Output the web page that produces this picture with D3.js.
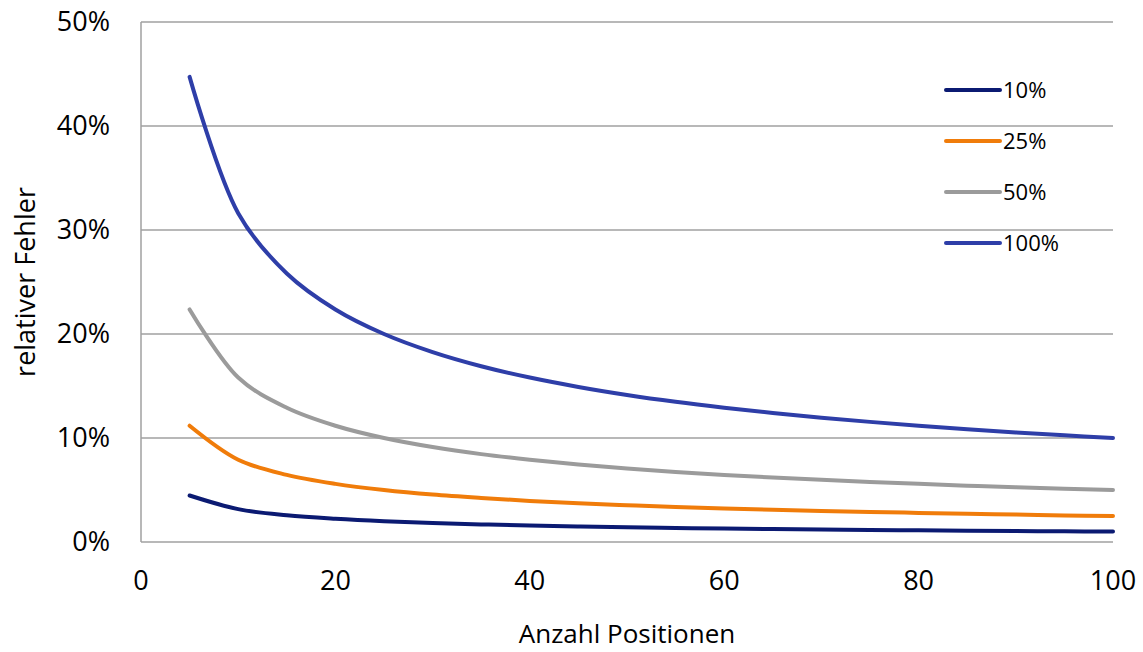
<!DOCTYPE html>
<html>
<head>
<meta charset="utf-8">
<script src="https://cdn.jsdelivr.net/npm/d3@7"></script>
<style>
body { margin: 0; background: #fff; }
text { font-family: "Open Sans", "Noto Sans", sans-serif; fill: #000; }
</style>
</head>
<body>
<div id="chart"></div>
<script>
// Anzahl Positionen (x)
var positions = [5, 10, 15, 20, 25, 30, 35, 40, 45, 50, 55, 60, 65, 70, 75, 80, 85, 90, 95, 100];

// relativer Fehler in %
var err10  = [4.47, 3.16, 2.58, 2.24, 2.0, 1.83, 1.69, 1.58, 1.49, 1.41, 1.35, 1.29, 1.24, 1.2, 1.15, 1.12, 1.08, 1.05, 1.03, 1.0];
var err25  = [11.18, 7.91, 6.45, 5.59, 5.0, 4.56, 4.23, 3.95, 3.73, 3.54, 3.37, 3.23, 3.1, 2.99, 2.89, 2.8, 2.71, 2.64, 2.56, 2.5];
var err50  = [22.36, 15.81, 12.91, 11.18, 10.0, 9.13, 8.45, 7.91, 7.45, 7.07, 6.74, 6.45, 6.2, 5.98, 5.77, 5.59, 5.42, 5.27, 5.13, 5.0];
var err100 = [44.72, 31.62, 25.82, 22.36, 20.0, 18.26, 16.9, 15.81, 14.91, 14.14, 13.48, 12.91, 12.4, 11.95, 11.55, 11.18, 10.85, 10.54, 10.26, 10.0];

var seriesNames = ["10%", "25%", "50%", "100%"];
var seriesColors = ["#0b1a72", "#f07c0a", "#9b9b9b", "#2e3ea8"];
var seriesValues = [err10, err25, err50, err100];

var yTicks = [0, 10, 20, 30, 40, 50];
var xTicks = [0, 20, 40, 60, 80, 100];

var width = 1143, height = 652;
var margin = {top: 22, right: 30, bottom: 110, left: 141};

var svg = d3.select("#chart").append("svg")
  .attr("width", width)
  .attr("height", height);

var x = d3.scaleLinear().domain([0, 100]).range([margin.left, width - margin.right]);
var y = d3.scaleLinear().domain([0, 50]).range([height - margin.bottom, margin.top]);

// gridlines
svg.append("g")
  .selectAll("line")
  .data(yTicks)
  .enter().append("line")
  .attr("x1", x(0))
  .attr("x2", x(100))
  .attr("y1", function(d) { return y(d); })
  .attr("y2", function(d) { return y(d); })
  .style("stroke", "#a0a0a0")
  .style("stroke-width", 1.5);

// y axis line
svg.append("line")
  .attr("x1", x(0)).attr("x2", x(0))
  .attr("y1", y(0)).attr("y2", y(50))
  .style("stroke", "#a0a0a0")
  .style("stroke-width", 1.5);

// y tick labels
svg.append("g")
  .selectAll("text")
  .data(yTicks)
  .enter().append("text")
  .attr("x", x(0) - 31)
  .attr("y", function(d) { return y(d); })
  .attr("dy", "0.35em")
  .attr("text-anchor", "end")
  .style("font-size", "27px")
  .text(function(d) { return d + "%"; });

// x tick labels
svg.append("g")
  .selectAll("text")
  .data(xTicks)
  .enter().append("text")
  .attr("x", function(d) { return x(d); })
  .attr("y", y(0) + 39)
  .attr("dy", "0.35em")
  .attr("text-anchor", "middle")
  .style("font-size", "27px")
  .text(function(d) { return d; });

// axis titles
svg.append("text")
  .attr("x", (x(0) + x(100)) / 2)
  .attr("y", 634)
  .attr("dy", "0.35em")
  .attr("text-anchor", "middle")
  .style("font-size", "26px")
  .text("Anzahl Positionen");

svg.append("text")
  .attr("transform", "translate(26," + ((y(0) + y(50)) / 2) + ") rotate(-90)")
  .attr("dy", "0.35em")
  .attr("text-anchor", "middle")
  .style("font-size", "27px")
  .text("relativer Fehler");

// lines
var line = d3.line()
  .x(function(d) { return x(d[0]); })
  .y(function(d) { return y(d[1]); })
  .curve(d3.curveCatmullRom.alpha(0.5));

svg.append("g")
  .selectAll("path")
  .data(seriesValues)
  .enter().append("path")
  .attr("d", function(vals) { return line(positions.map(function(p, i) { return [p, vals[i]]; })); })
  .style("fill", "none")
  .style("stroke", function(d, i) { return seriesColors[i]; })
  .style("stroke-width", 4)
  .style("stroke-linecap", "round")
  .style("stroke-linejoin", "round");

// legend
var legend = svg.append("g")
  .selectAll("g")
  .data(seriesNames)
  .enter().append("g")
  .attr("transform", function(d, i) { return "translate(946," + (90 + i * 51) + ")"; });

legend.append("line")
  .attr("x1", 0).attr("x2", 54)
  .attr("y1", 0).attr("y2", 0)
  .style("stroke", function(d, i) { return seriesColors[i]; })
  .style("stroke-width", 4)
  .style("stroke-linecap", "round");

legend.append("text")
  .attr("x", 57)
  .attr("y", 0)
  .attr("dy", "0.35em")
  .style("font-size", "22px")
  .text(function(d) { return d; });
</script>
</body>
</html>
